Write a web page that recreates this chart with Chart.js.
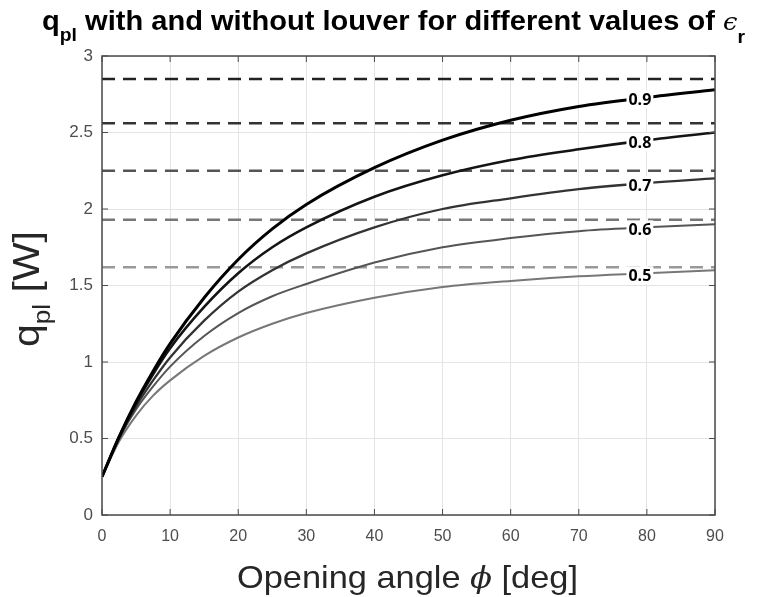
<!DOCTYPE html>
<html lang="en">
  <head>
    <meta charset="UTF-8" />
    <title>q_pl vs opening angle</title>
    <script src="https://cdn.jsdelivr.net/npm/chart.js"></script>
    <style>
      html, body { margin: 0; padding: 0; background: #fff; }
      #wrap { width: 777px; height: 597px; }
    </style>
  </head>
  <body>
    <div id="wrap"><canvas id="qplChart" width="777" height="597"></canvas></div>

    <script>
      // opening angle (deg) and q_pl (W) with louver, one array per emissivity
      const angles = [0, 2.5, 5, 7.5, 10, 15, 20, 25, 30, 40, 50, 60, 70, 80, 90];
      const q09 = [0.25, 0.51, 0.74, 0.94, 1.12, 1.42, 1.67, 1.87, 2.03, 2.27, 2.45, 2.58, 2.67, 2.73, 2.78];
      const q08 = [0.25, 0.51, 0.73, 0.92, 1.09, 1.36, 1.58, 1.75, 1.88, 2.08, 2.22, 2.32, 2.39, 2.45, 2.50];
      const q07 = [0.25, 0.50, 0.71, 0.88, 1.03, 1.27, 1.46, 1.60, 1.71, 1.88, 2.00, 2.07, 2.13, 2.17, 2.20];
      const q06 = [0.25, 0.50, 0.69, 0.84, 0.97, 1.17, 1.32, 1.43, 1.51, 1.65, 1.75, 1.81, 1.855, 1.88, 1.90];
      const q05 = [0.25, 0.48, 0.65, 0.78, 0.88, 1.04, 1.16, 1.25, 1.32, 1.42, 1.49, 1.53, 1.56, 1.58, 1.60];

      // q_pl without louver (constant)
      const noLouver = [2.85, 2.56, 2.25, 1.93, 1.62];
      const epsLabels = ["0.9", "0.8", "0.7", "0.6", "0.5"];

      const xTicks = [0, 10, 20, 30, 40, 50, 60, 70, 80, 90];
      const yTicks = [0, 0.5, 1, 1.5, 2, 2.5, 3];

      const curves = [q09, q08, q07, q06, q05];
      const curveColors = ["#000000", "#141414", "#333333", "#555555", "#777777"];
      const curveWidths = [3, 2.6, 2.3, 2, 2];
      const dashColors = ["#222222", "#333333", "#555555", "#777777", "#999999"];

      const datasets = [];
      curves.forEach((vals, i) => {
        datasets.push({
          label: epsLabels[i],
          data: angles.map((a, k) => ({ x: a, y: vals[k] })),
          borderColor: curveColors[i],
          borderWidth: curveWidths[i],
          pointRadius: 0,
          cubicInterpolationMode: "monotone",
          fill: false,
        });
      });
      noLouver.forEach((v, i) => {
        datasets.push({
          label: "no louver " + epsLabels[i],
          data: [{ x: xTicks[0], y: v }, { x: xTicks[xTicks.length - 1], y: v }],
          borderColor: dashColors[i],
          borderWidth: 2.5,
          borderDash: [13, 8],
          pointRadius: 0,
          fill: false,
        });
      });

      // title, axis titles (with subscripts), frame, inner ticks and curve labels
      const decorPlugin = {
        id: "decor",
        afterDatasetsDraw(chart) {
          const ctx = chart.ctx;
          const area = chart.chartArea;
          const xs = chart.scales.x;
          const ys = chart.scales.y;

          // frame
          ctx.save();
          ctx.strokeStyle = "#4a4a4a";
          ctx.lineWidth = 1.5;
          ctx.strokeRect(area.left, area.top, area.right - area.left, area.bottom - area.top);
          ctx.lineWidth = 1;
          ctx.beginPath();
          xTicks.forEach((t) => {
            const px = xs.getPixelForValue(t);
            ctx.moveTo(px, area.bottom); ctx.lineTo(px, area.bottom - 6);
            ctx.moveTo(px, area.top); ctx.lineTo(px, area.top + 6);
          });
          yTicks.forEach((t) => {
            const py = ys.getPixelForValue(t);
            ctx.moveTo(area.left, py); ctx.lineTo(area.left + 6, py);
            ctx.moveTo(area.right, py); ctx.lineTo(area.right - 6, py);
          });
          ctx.stroke();
          ctx.restore();

          // curve labels near 80 deg
          const labIdx = angles.indexOf(80);
          ctx.save();
          ctx.font = 'bold 16px "Open Sans"';
          ctx.textAlign = "center";
          ctx.textBaseline = "middle";
          curves.forEach((vals, i) => {
            const px = xs.getPixelForValue(angles[labIdx]) - 7;
            const py = ys.getPixelForValue(vals[labIdx]) + 2;
            const w = ctx.measureText(epsLabels[i]).width;
            ctx.fillStyle = "#ffffff";
            ctx.fillRect(px - w / 2 - 2, py - 9, w + 4, 18);
            ctx.fillStyle = "#000000";
            ctx.fillText(epsLabels[i], px, py + 1);
          });
          ctx.restore();

          // run of text pieces, scaled to a given width
          function drawRun(pieces, x, y, targetW) {
            let total = 0;
            pieces.forEach((p) => { ctx.font = p.font; p.w = ctx.measureText(p.t).width; total += p.w; });
            const s = targetW / total;
            ctx.save();
            ctx.translate(x, y);
            ctx.scale(s, 1);
            let cx = 0;
            pieces.forEach((p) => {
              ctx.font = p.font;
              ctx.fillStyle = p.color;
              ctx.fillText(p.t, cx, p.dy || 0);
              cx += p.w;
            });
            ctx.restore();
          }

          ctx.save();
          ctx.textAlign = "left";
          ctx.textBaseline = "alphabetic";
          drawRun([
            { t: "q", font: 'bold 27px "Liberation Sans"', color: "#000" },
            { t: "pl", font: 'bold 18px "Liberation Sans"', color: "#000", dy: 11 },
            { t: " with and without louver for different values of ", font: 'bold 27px "Liberation Sans"', color: "#000" },
            { t: "\u03f5", font: 'italic 24px "DejaVu Serif"', color: "#000" },
            { t: "r", font: 'bold 18px "Liberation Sans"', color: "#000", dy: 13 },
          ], 42, 30, 703);

          drawRun([
            { t: "Opening angle ", font: '32px "Liberation Sans"', color: "#262626" },
            { t: "\u03d5", font: 'italic 30px "DejaVu Serif"', color: "#262626" },
            { t: " [deg]", font: '32px "Liberation Sans"', color: "#262626" },
          ], 237, 588, 341);

          ctx.translate(39, 347);
          ctx.rotate(-Math.PI / 2);
          drawRun([
            { t: "q", font: '36px "Liberation Sans"', color: "#262626" },
            { t: "pl", font: '23px "Liberation Sans"', color: "#262626", dy: 11 },
            { t: " [W]", font: '36px "Liberation Sans"', color: "#262626" },
          ], 0, 0, 116);
          ctx.restore();
        },
      };

      const ctx = document.getElementById("qplChart").getContext("2d");
      new Chart(ctx, {
        type: "line",
        data: { datasets: datasets },
        options: {
          responsive: false,
          animation: false,
          layout: { padding: { left: 0, top: 56, right: 62, bottom: 0 } },
          plugins: { legend: { display: false }, tooltip: { enabled: false }, title: { display: false } },
          scales: {
            x: {
              type: "linear",
              min: 0,
              max: 90,
              afterFit: (scale) => { scale.height = 82; },
              afterBuildTicks: (scale) => { scale.ticks = xTicks.map((v) => ({ value: v })); },
              grid: { color: "#e4e4e4", lineWidth: 1, drawTicks: false },
              border: { display: false },
              ticks: { padding: 12, color: "#4d4d4d", font: { family: "Liberation Sans", size: 16 }, maxRotation: 0, callback: (v) => String(v) },
            },
            y: {
              min: 0,
              max: 3,
              afterFit: (scale) => { scale.width = 102; },
              afterBuildTicks: (scale) => { scale.ticks = yTicks.map((v) => ({ value: v })); },
              grid: { color: "#e4e4e4", lineWidth: 1, drawTicks: false },
              border: { display: false },
              ticks: { padding: 9, color: "#4d4d4d", font: { family: "Liberation Sans", size: 17 }, callback: (v) => String(v) },
            },
          },
        },
        plugins: [decorPlugin],
      });
    </script>
  </body>
</html>
